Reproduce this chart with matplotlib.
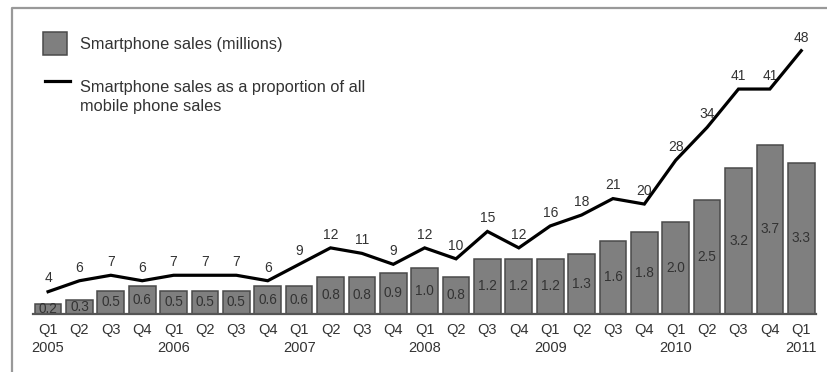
import numpy as np
import matplotlib.pyplot as plt
from matplotlib.patches import Rectangle
from matplotlib.lines import Line2D

plt.rcParams['font.family'] = ['Liberation Sans', 'DejaVu Sans']

# quarterly data, Q1 2005 .. Q1 2011
quarters = ['Q1', 'Q2', 'Q3', 'Q4'] * 6 + ['Q1']
years = ['2005', '2006', '2007', '2008', '2009', '2010', '2011']
sales = [0.2, 0.3, 0.5, 0.6, 0.5, 0.5, 0.5, 0.6, 0.6, 0.8, 0.8, 0.9,
         1.0, 0.8, 1.2, 1.2, 1.2, 1.3, 1.6, 1.8, 2.0, 2.5, 3.2, 3.7, 3.3]
share = [4, 6, 7, 6, 7, 7, 7, 6, 9, 12, 11, 9,
         12, 10, 15, 12, 16, 18, 21, 20, 28, 34, 41, 41, 48]

W, H = 828, 372
fig = plt.figure(figsize=(W / 100, H / 100), dpi=100)


def fx(px):
    return px / W


def fy(py):
    return 1 - py / H


bar_col = '#7f7f7f'
edge_col = '#4a4a4a'
txt_col = '#333333'

ax = fig.add_axes([fx(33), fy(313.6), fx(816 - 33), (313.6 - 30) / H])
x = np.arange(len(sales))
ax.bar(x, sales, width=0.85, color=bar_col, edgecolor=edge_col, linewidth=1.1, zorder=2)
for i, v in enumerate(sales):
    ax.text(i, v / 2, f'{v:.1f}', ha='center', va='center', fontsize=9.8, color=txt_col, zorder=3)

ax.set_xlim(-0.48, 24.47)
ax.set_ylim(0, 283.6 / 45.6)

labels = []
yi = 0
for i, q in enumerate(quarters):
    if q == 'Q1':
        labels.append(q + '\n' + years[yi])
        yi += 1
    else:
        labels.append(q)
ax.set_xticks(x)
ax.set_xticklabels(labels, fontsize=10.5, color=txt_col, linespacing=1.3)
ax.tick_params(axis='x', length=0, pad=7)
ax.set_yticks([])
for s in ['top', 'left', 'right']:
    ax.spines[s].set_visible(False)
ax.spines['bottom'].set_color('#555555')
ax.spines['bottom'].set_linewidth(1.6)
ax.spines['bottom'].set_zorder(4)

# proportion line on its own scale
ax2 = ax.twinx()
ax2.plot(x, share, color='black', linewidth=2.3, solid_joinstyle='miter', zorder=5)
for i, v in enumerate(share):
    ax2.annotate(str(v), (i, v), xytext=(0, 9.5), textcoords='offset points',
                 ha='center', va='center', fontsize=10, color=txt_col)
ax2.set_ylim(0, 283.6 / 5.477)
ax2.set_yticks([])
for s in ax2.spines.values():
    s.set_visible(False)

# legend
fig.add_artist(Rectangle((fx(43), fy(55)), fx(24), 23 / H, transform=fig.transFigure,
                         facecolor=bar_col, edgecolor=edge_col, linewidth=1.1))
fig.text(fx(80), fy(44), 'Smartphone sales (millions)', fontsize=11.8, color=txt_col,
         ha='left', va='center')
fig.add_artist(Line2D([fx(45), fx(70)], [fy(81), fy(81)], transform=fig.transFigure,
                      color='black', linewidth=2.3))
fig.text(fx(80), fy(97), 'Smartphone sales as a proportion of all\nmobile phone sales',
         fontsize=11.8, color=txt_col, ha='left', va='center', linespacing=1.4)

# outer frame (left and top edges)
fig.add_artist(Line2D([fx(12), fx(12), 1], [0, fy(8), fy(8)], transform=fig.transFigure,
                      color='#999999', linewidth=1.6))

fig.savefig('out.png', dpi=100)
